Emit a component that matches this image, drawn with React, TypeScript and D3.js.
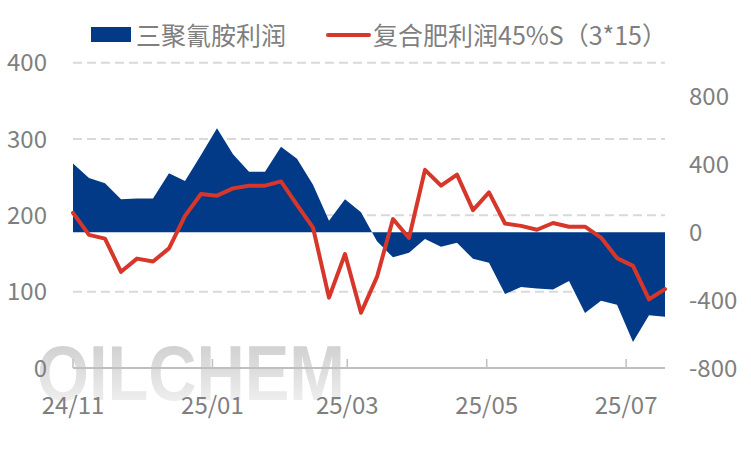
import React from "react";
import * as d3 from "d3";

const dateStrings = [
  "2024-11-01","2024-11-08","2024-11-15","2024-11-22","2024-11-29",
  "2024-12-06","2024-12-13","2024-12-20","2024-12-27",
  "2025-01-03","2025-01-10","2025-01-17","2025-01-24","2025-01-31",
  "2025-02-07","2025-02-14","2025-02-21","2025-02-28",
  "2025-03-07","2025-03-14","2025-03-21","2025-03-28",
  "2025-04-04","2025-04-11","2025-04-18","2025-04-25",
  "2025-05-02","2025-05-09","2025-05-16","2025-05-23","2025-05-30",
  "2025-06-06","2025-06-13","2025-06-20","2025-06-27",
  "2025-07-04","2025-07-11","2025-07-18",
];

// 三聚氰胺利润 (left axis)
const melamineProfit = [
  268, 249, 242, 221, 222, 222, 255, 245, 279, 314, 280, 257, 257, 290, 274,
  240, 193, 221, 204, 166, 145, 151, 169, 159, 164, 143, 138, 97, 106, 104,
  103, 114, 72, 88, 83, 34, 69, 67,
];

// 复合肥利润45%S（3*15） (right axis)
const compoundProfit = [
  115, -15, -37, -233, -155, -172, -95, 97, 226, 216, 259, 275, 275, 300, 162,
  28, -385, -128, -474, -263, 78, -34, 368, 275, 340, 131, 235, 52, 38, 15,
  55, 33, 33, -31, -152, -198, -395, -335,
];

const leftTicks = [0, 100, 200, 300, 400];
const rightTicks = [-800, -400, 0, 400, 800];
const xTickDates = ["2024-11-01", "2025-01-01", "2025-03-01", "2025-05-01", "2025-07-01"];
const xTickLabels = ["24/11", "25/01", "25/03", "25/05", "25/07"];

const seriesNames = ["三聚氰胺利润", "复合肥利润45%S（3*15）"];

const W = 751;
const H = 450;
const FONT = "'Noto Sans CJK SC', 'Noto Sans', sans-serif";
const TEXT = "#7f7f7f";
const BLUE = "#023a87";
const RED = "#d7372a";

export default function App() {
  const parse = d3.utcParse("%Y-%m-%d");
  const dates = dateStrings.map((s) => parse(s) as Date);

  const x = d3
    .scaleUtc()
    .domain([dates[0], dates[dates.length - 1]])
    .range([73, 665]);
  const yL = d3.scaleLinear().domain([0, 400]).range([368, 62.7]);
  const yR = d3.scaleLinear().domain([-800, 1000]).range([368, 62.7]);

  const area = d3
    .area<number>()
    .x((_, i) => x(dates[i]))
    .y0(() => yR(0))
    .y1((d) => yL(d));

  const line = d3
    .line<number>()
    .x((_, i) => x(dates[i]))
    .y((d) => yR(d));

  const [x0, x1] = x.range();

  return (
    <svg
      width={W}
      height={H}
      style={{ position: "absolute", left: 0, top: 0, background: "#fff" }}
      fontFamily={FONT}
    >
      <defs>
        <linearGradient id="wm" x1="0" y1="0" x2="0" y2="1">
          <stop offset="0%" stopColor="#c8c8c8" />
          <stop offset="100%" stopColor="#f6f6f6" />
        </linearGradient>
      </defs>

      {/* watermark */}
      <text
        x={37}
        y={400}
        fontFamily="'Liberation Sans', Arial, sans-serif"
        fontWeight="bold"
        fontSize={78}
        textLength={308}
        lengthAdjust="spacingAndGlyphs"
        fill="url(#wm)"
      >
        OILCHEM
      </text>

      {/* grid */}
      {leftTicks
        .filter((t) => t !== 0)
        .map((t) => (
          <line
            key={"g" + t}
            x1={x0}
            x2={x1}
            y1={yL(t)}
            y2={yL(t)}
            stroke="#d9d9d9"
            strokeWidth={2}
            strokeDasharray="9,5"
          />
        ))}

      {/* area */}
      <path d={area(melamineProfit) || ""} fill={BLUE} />

      {/* line */}
      <path
        d={line(compoundProfit) || ""}
        fill="none"
        stroke={RED}
        strokeWidth={4}
        strokeLinejoin="round"
        strokeLinecap="round"
      />

      {/* x axis */}
      <line x1={x0} x2={x1} y1={368} y2={368} stroke="#bfbfbf" strokeWidth={2} />
      {xTickDates.map((s, i) => {
        const xp = x(parse(s) as Date);
        return (
          <g key={s}>
            <line x1={xp} x2={xp} y1={359} y2={368} stroke="#bfbfbf" strokeWidth={1.5} />
            <text
              x={xp}
              y={403}
              textAnchor="middle"
              dominantBaseline="central"
              fontSize={24}
              fill={TEXT}
            >
              {xTickLabels[i]}
            </text>
          </g>
        );
      })}

      {/* left axis labels */}
      {leftTicks.map((t) => (
        <text
          key={"l" + t}
          x={47}
          y={yL(t) - 2}
          textAnchor="end"
          dominantBaseline="central"
          fontSize={24}
          fill={TEXT}
        >
          {t}
        </text>
      ))}

      {/* right axis labels */}
      {rightTicks.map((t) => (
        <text
          key={"r" + t}
          x={689}
          y={yR(t) - 2}
          textAnchor="start"
          dominantBaseline="central"
          fontSize={24}
          fill={TEXT}
        >
          {t}
        </text>
      ))}

      {/* legend */}
      <rect x={91} y={27} width={40} height={15} fill={BLUE} />
      <text x={136} y={34} dominantBaseline="central" fontSize={25} fill={TEXT}>
        {seriesNames[0]}
      </text>
      <line x1={328} x2={369} y1={35} y2={35} stroke={RED} strokeWidth={4} strokeLinecap="round" />
      <text x={373} y={34} dominantBaseline="central" fontSize={25} fill={TEXT}>
        {seriesNames[1]}
      </text>
    </svg>
  );
}
